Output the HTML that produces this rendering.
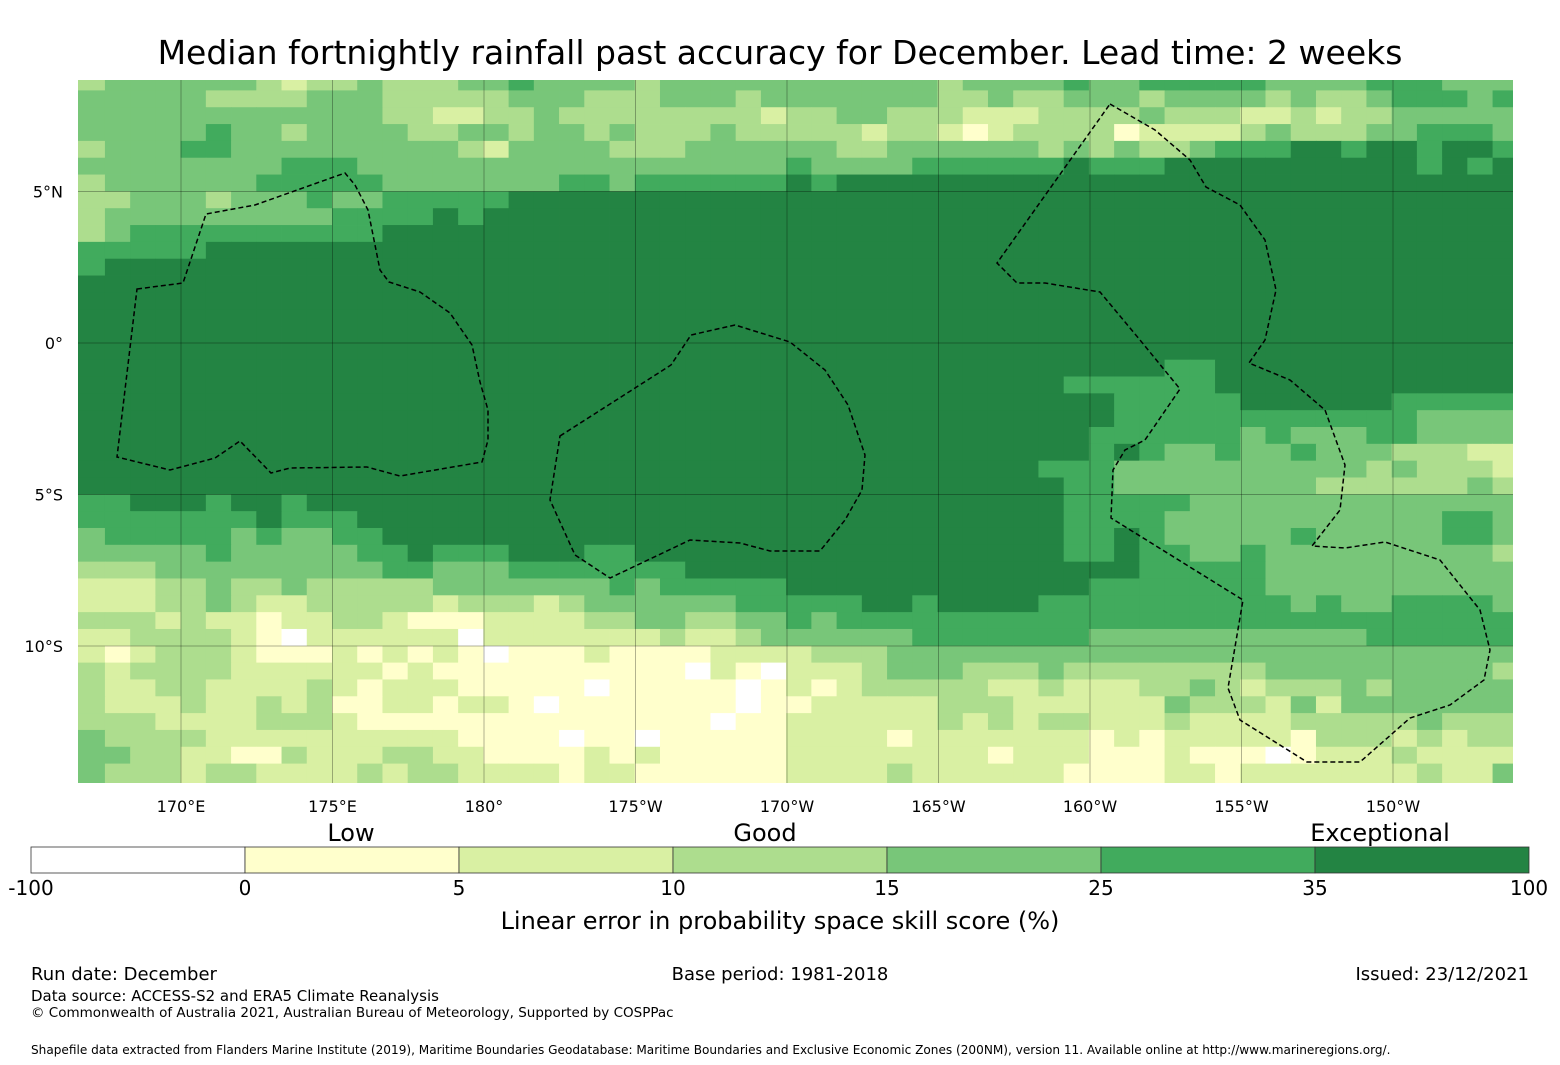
<!DOCTYPE html>
<html><head><meta charset="utf-8"><style>
html,body{margin:0;padding:0;background:#fff;}
svg{display:block;font-family:"DejaVu Sans","Liberation Sans",sans-serif;}
</style></head><body>
<svg id="chart" width="1560" height="1065" viewBox="0 0 1560 1065" xmlns="http://www.w3.org/2000/svg">
<rect width="1560" height="1065" fill="#fff"/>
<text x="780" y="64" font-size="33" text-anchor="middle" fill="#000">Median fortnightly rainfall past accuracy for December. Lead time: 2 weeks</text>
<defs><clipPath id="mapclip"><rect x="78" y="80" width="1435" height="703"/></clipPath></defs>
<g id="map" clip-path="url(#mapclip)"></g>
<g id="xticks"></g>
<g id="yticks"></g>
<g id="cbar"></g>
<text x="351" y="841" font-size="24" text-anchor="middle">Low</text>
<text x="765" y="841" font-size="24" text-anchor="middle">Good</text>
<text x="1380" y="841" font-size="24" text-anchor="middle">Exceptional</text>
<text x="780" y="929" font-size="24" text-anchor="middle">Linear error in probability space skill score (%)</text>
<text x="31" y="980" font-size="18">Run date: December</text>
<text x="780" y="980" font-size="18" text-anchor="middle">Base period: 1981-2018</text>
<text x="1529" y="980" font-size="18" text-anchor="end">Issued: 23/12/2021</text>
<text x="31" y="1001" font-size="15">Data source: ACCESS-S2 and ERA5 Climate Reanalysis</text>
<text x="31" y="1017" font-size="13.5">© Commonwealth of Australia 2021, Australian Bureau of Meteorology, Supported by COSPPac</text>
<text x="31" y="1054" font-size="12.1">Shapefile data extracted from Flanders Marine Institute (2019), Maritime Boundaries Geodatabase: Maritime Boundaries and Exclusive Economic Zones (200NM), version 11. Available online at http://www.marineregions.org/.</text>
</svg>
<script>
// category per cell (0:<0, 1:0-5, 2:5-10, 3:10-15, 4:15-25, 5:25-35, 6:35-100)
const gridRows = [
"3444444323343334454"+"4443444444444443444"+"4544555554444555444",
"4444433334443333344"+"4333444344444443343"+"3444344443433455545",
"4444444444443322334"+"3333333323344333222"+"3333433322323344444",
"4444454434444334434"+"4343334333332332123"+"3331222234333445554",
"3444554444444443244"+"4433344444433444444"+"3434334555665665665",
"4444444455544444444"+"4444444445444455555"+"5655566666666665656",
"3444444555554444444"+"5545555556566666666"+"6666666666666666666",
"3344434445445555566"+"6666666666666666666"+"6666666666666666666",
"3444444444555565666"+"6666666666666666666"+"6666666666666666666",
"3455555555556666666"+"6666666666666666666"+"6666666666666666666",
"5555566666666666666"+"6666666666666666666"+"6666666666666666666",
"5666666666666666666"+"6666666666666666666"+"6666666666666666666",
"6666666666666666666"+"6666666666666666666"+"6666666666666666666",
"6666666666666666666"+"6666666666666666666"+"6666666666666666666",
"6666666666666666666"+"6666666666666666666"+"6666666666666666666",
"6666666666666666666"+"6666666666666666666"+"6666666666666666666",
"6666666666666666666"+"6666666666666666666"+"6666666666666666666",
"6666666666666666666"+"6666666666666666666"+"6666655666666666666",
"6666666666666666666"+"6666666666666666666"+"6555555666666666666",
"6666666666666666666"+"6666666666666666666"+"6665555566666655555",
"6666666666666666666"+"6666666666666666666"+"6665555555555554444",
"6666666666666666666"+"6666666666666666666"+"6655555545444554444",
"6666666666666666666"+"6666666666666666666"+"6656544544544433322",
"6666666666666666666"+"6666666666666666666"+"5554444444444343332",
"6666666666666666666"+"6666666666666666666"+"6554444444433333343",
"5566656656666666666"+"6666666666666666666"+"6555554444444444444",
"5555555655566666666"+"6666666666666666666"+"6555544444444444554",
"4555554544556666666"+"6666666666666666666"+"6556544444544444554",
"4444454444455655566"+"6556666666666666666"+"6556554454444444443",
"3334444444445544455"+"5555566666666666666"+"6666555554444444444",
"2223343343333344444"+"4454555556666666666"+"6655555554444444444",
"2223343223333323332"+"3444444555556656666"+"5555555555454455554",
"3332322122332111222"+"2334433445455555555"+"5555555555555555555",
"2233332102222220222"+"2222322344444455555"+"5544444444444555555",
"2123332111212121011"+"1211112222333444444"+"4444444444444444444",
"3233332222221211111"+"1111102102223444333"+"4333333334444444443",
"3223322223212221111"+"1011111012123333322"+"3222334323334344444",
"3222322323112212210"+"1111111011222223332"+"2222243332424444444",
"3332222333211111111"+"1111110112222223232"+"3322232222333334333",
"4333322222222221111"+"0110111112222122222"+"2212122222133323233",
"4433221132223322111"+"1212111112222222212"+"2211121110122232222",
"4333233222232332222"+"1221111112222322222"+"2111122122222223224",
"4333233222232332222"+"1221111112222322222"+"2111122122222223224"
];
const palette = ["#ffffff","#ffffcc","#d9f0a3","#addd8e","#78c679","#41ab5d","#238443"];
const cbarBounds = ["-100","0","5","10","15","25","35","100"];
const lonTicks = [170,175,180,185,190,195,200,205,210];
const lonLabels = ["170°E","175°E","180°","175°W","170°W","165°W","160°W","155°W","150°W"];
const latTicks = [5,0,-5,-10];
const latLabels = ["5°N","0°","5°S","10°S"];

const NS="http://www.w3.org/2000/svg";
const X = c => 79.7 + 25.23*c;
const Y = r => 90.4 + 16.83*(r-1);
const lonX = lon => 181 + (lon-170)*30.3;
const latY = lat => 343 - lat*30.3;
function mk(tag, attrs, parent){const e=document.createElementNS(NS,tag);for(const k in attrs)e.setAttribute(k,attrs[k]);parent.appendChild(e);return e;}

const map=document.getElementById('map');
gridRows.forEach((row,r)=>{
  for(let c=0;c<row.length;c++){
    const x0 = c===0?74:X(c), x1 = X(c+1);
    const y0 = r===0?76:Y(r), y1 = Y(r+1);
    const e=mk('rect',{x:x0,y:y0,width:x1-x0+0.4,height:y1-y0+0.4,fill:palette[+row[c]]},map);
    
    
  }
});
lonTicks.forEach(l=>{const e=mk('line',{x1:lonX(l),x2:lonX(l),y1:80,y2:783,stroke:'#000','stroke-opacity':0.3,'stroke-width':1},map);
  });
latTicks.forEach(l=>{const e=mk('line',{x1:78,x2:1513,y1:latY(l),y2:latY(l),stroke:'#000','stroke-opacity':0.3,'stroke-width':1},map);
  });
const eez=[
"M137,289 L183,283 L206,214 L255,205 L345,173 L355,185 L368,210 L380,270 L389,282 L420,292 L450,313 L472,345 L480,382 L488,410 L488,440 L482,462 L400,476 L367,467 L290,468 L271,473 L240,441 L215,458 L170,470 L117,457 Z",
"M560,436 L671,365 L691,335 L735,325 L790,342 L825,370 L848,405 L865,455 L862,490 L845,520 L820,551 L770,551 L740,543 L690,540 L610,578 L575,555 L550,500 Z",
"M1110,104 L1155,130 L1190,160 L1206,187 L1240,205 L1265,240 L1276,290 L1265,340 L1249,363 L1290,380 L1325,410 L1345,465 L1340,510 L1312,546 L1345,548 L1385,542 L1440,560 L1480,610 L1490,650 L1484,680 L1450,705 L1410,718 L1360,762 L1307,762 L1240,720 L1228,688 L1243,600 L1111,518 L1113,470 L1125,450 L1145,440 L1180,389 L1140,340 L1100,292 L1045,283 L1017,283 L997,263 Z"];
eez.forEach(d=>{const e=mk('path',{d:d,fill:'none',stroke:'#000','stroke-width':1.5,'stroke-dasharray':'5,3'},map);
  });

const xt=document.getElementById('xticks');
lonTicks.forEach((l,i)=>{const e=mk('text',{x:lonX(l),y:812,'font-size':16,'text-anchor':'middle'},xt);e.textContent=lonLabels[i];
  });
const yt=document.getElementById('yticks');
latTicks.forEach((l,i)=>{const e=mk('text',{x:63,y:latY(l)+6,'font-size':16,'text-anchor':'end'},yt);e.textContent=latLabels[i];
  });

const cb=document.getElementById('cbar');
const cw=(1529-31)/7;
for(let i=0;i<7;i++){const e=mk('rect',{x:31+i*cw,y:847,width:cw,height:26,fill:palette[i],stroke:'#333','stroke-width':0.8},cb);
  }
cbarBounds.forEach((b,i)=>{const e=mk('text',{x:31+i*cw,y:895,'font-size':20,'text-anchor':'middle'},cb);e.textContent=b;
  });
</script>
</body></html>
